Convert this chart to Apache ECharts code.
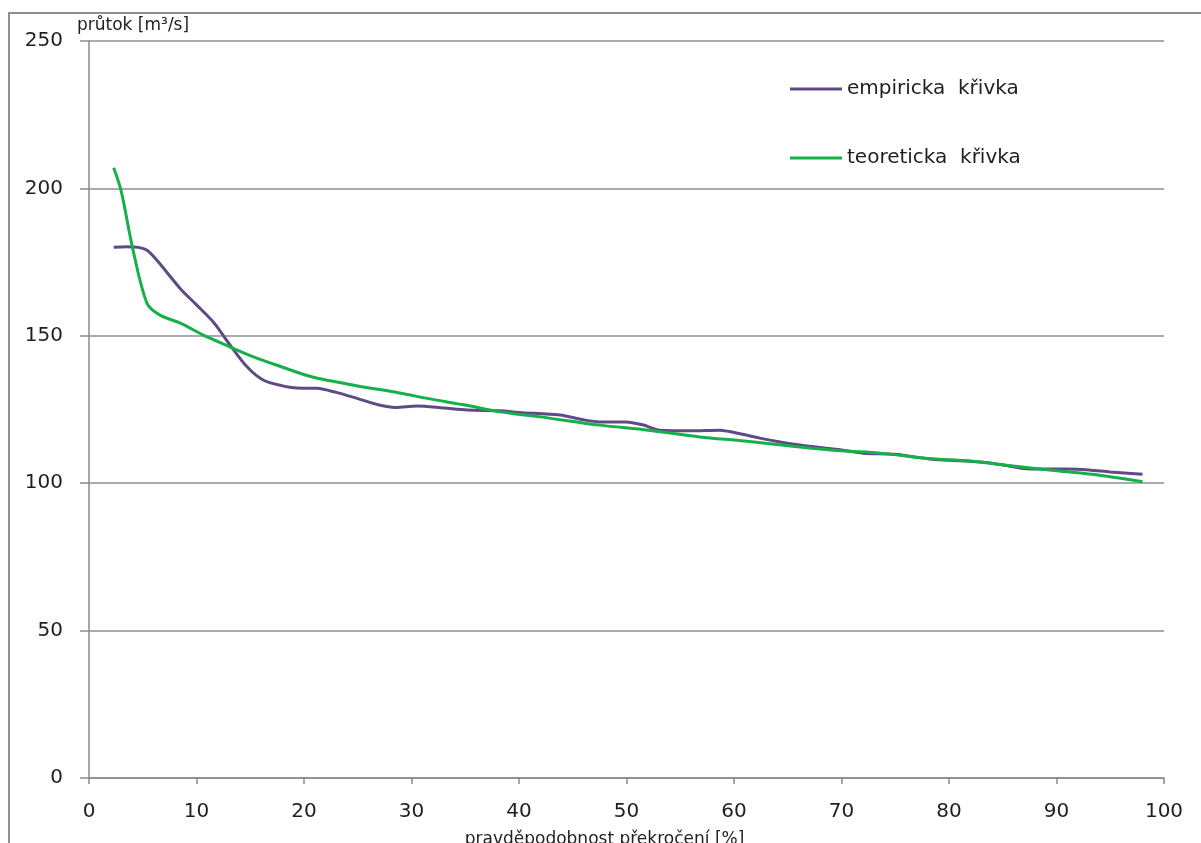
<!DOCTYPE html>
<html><head><meta charset="utf-8">
<script src="https://cdn.jsdelivr.net/npm/echarts@6/dist/echarts.min.js"></script>
<style>html,body{margin:0;padding:0;background:#fff}#c{width:1201px;height:843px}</style>
</head><body><div id="c"></div>
<script>
const empX = [2.3,3.5,4.6,5.4,6.3,8.5,10,11.6,13.1,14.7,16.2,18,19.3,21.2,23,25,27,28.5,30.5,33,35.2,38.2,40,43.8,46,47.5,50,51.5,53.1,56,58.7,59.9,62.4,64.3,67,70,72,75,78.2,80,82.9,85,87.5,91,93,95,98];
const empY = [180,180.2,180,179,175.7,166,160.5,154.5,147,139.5,135,133,132.3,132.2,130.8,128.7,126.5,125.7,126.2,125.5,124.8,124.6,124,123.1,121.5,120.8,120.8,119.8,118,117.8,118,117.3,115.3,114,112.5,111.3,110.2,109.8,108.2,107.8,107.2,106.2,104.8,104.8,104.5,103.8,103];
const teoX = [2.3,3,4.1,5.4,6.6,8.5,10.5,12.7,15,17.5,20.8,25,28.9,31.7,35,38.2,42,47.5,52,56.8,61,66.1,70,73.6,78,82,86,90,94,98];
const teoY = [207,199,179,161,157,154.3,150.5,146.9,143.3,140,136,133,130.6,128.6,126.5,124.2,122.5,119.7,118,115.7,114.3,112.3,111,110.2,108.4,107.5,105.8,104.2,102.7,100.5];
const seriesNames = ['empiricka  křivka', 'teoreticka  křivka'];
const yTitle = 'průtok [m³/s]';
const xTitle = 'pravděpodobnost překročení [%]';

const pair = (xs, ys) => xs.map((x, i) => [x, ys[i]]);
const font = 'DejaVu Sans, Verdana, sans-serif';
const chart = echarts.init(document.getElementById('c'));
chart.setOption({
  animation: false,
  backgroundColor: '#fff',
  graphic: [{
    type: 'rect', shape: {x: 9, y: 13, width: 1400, height: 1000},
    style: {fill: 'none', stroke: '#8f8f8f', lineWidth: 2}, silent: true, z: -1
  }],
  title: {
    text: yTitle, left: 72, top: 12,
    textStyle: {fontFamily: font, fontSize: 17, fontWeight: 'normal', color: '#1f1f1f'}
  },
  legend: {
    orient: 'vertical', left: 785, top: 74, itemWidth: 52, itemHeight: 3, itemGap: 49,
    icon: 'rect',
    textStyle: {fontFamily: font, fontSize: 20, color: '#1f1f1f'},
    data: seriesNames
  },
  grid: {left: 89, right: 37, top: 41, bottom: 65, containLabel: false, outerBoundsMode: 'none'},
  xAxis: {
    type: 'value', min: 0, max: 100, interval: 10,
    name: xTitle, nameLocation: 'middle', nameGap: 53,
    nameTextStyle: {fontFamily: font, fontSize: 17, color: '#1f1f1f', padding: [0, 44, 0, 0]},
    axisLine: {lineStyle: {color: '#8a8a8a', width: 1.5}},
    axisTick: {show: true, length: 6, lineStyle: {color: '#8a8a8a', width: 1.5}},
    axisLabel: {fontFamily: font, fontSize: 20, color: '#1f1f1f', margin: 24},
    splitLine: {show: false}
  },
  yAxis: {
    type: 'value', min: 0, max: 250, interval: 50,
    axisLine: {show: true, lineStyle: {color: '#8a8a8a', width: 1.5}},
    axisTick: {show: true, length: 9, lineStyle: {color: '#8a8a8a', width: 1.5}},
    axisLabel: {fontFamily: font, fontSize: 20, color: '#1f1f1f', margin: 26},
    splitLine: {show: true, lineStyle: {color: '#8f8f8f', width: 1.5}}
  },
  series: [
    {name: seriesNames[0], type: 'line', data: pair(empX, empY), smooth: 0.3, showSymbol: false,
     lineStyle: {color: '#5f4a87', width: 3}, itemStyle: {color: '#5f4a87'}},
    {name: seriesNames[1], type: 'line', data: pair(teoX, teoY), smooth: 0.3, showSymbol: false,
     lineStyle: {color: '#16b04a', width: 3}, itemStyle: {color: '#16b04a'}}
  ]
});
</script></body></html>
